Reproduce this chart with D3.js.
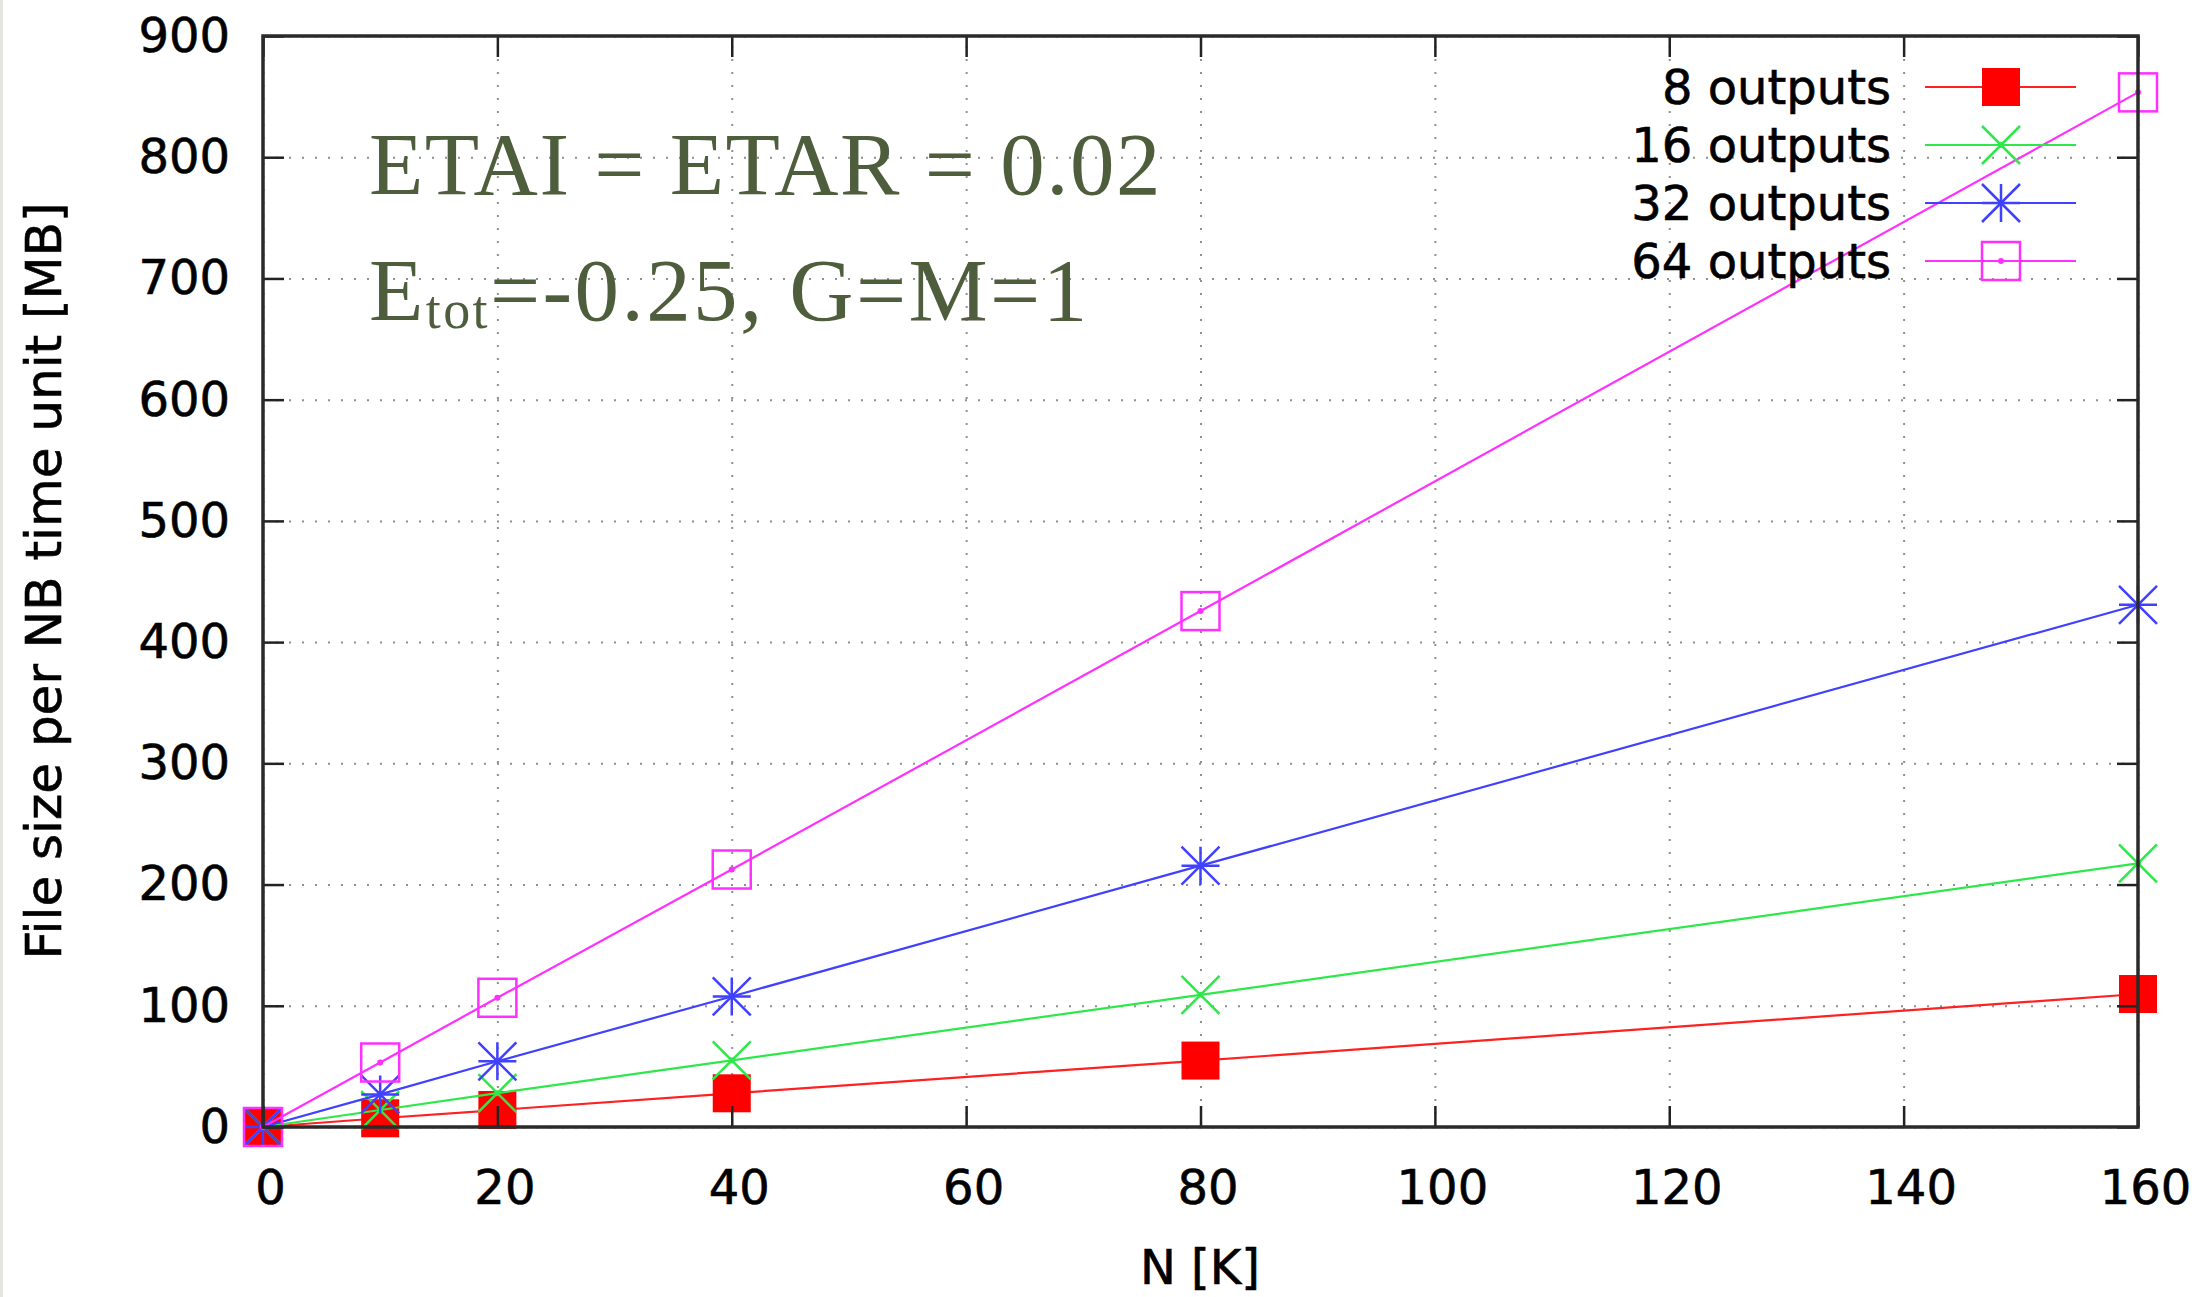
<!DOCTYPE html>
<html>
<head>
<meta charset="utf-8">
<script src="https://cdn.jsdelivr.net/npm/d3@7"></script>
<style>
  body { margin: 0; background: #fff; }
  svg { display: block; }
</style>
</head>
<body>
<svg class="displayContext" width="2209" height="1297"></svg>
<script>

// data
var nValues   = [0, 10, 20, 40, 80, 160];
var outputs8  = [0, 7.2, 14, 27.8, 54.8, 109.7];
var outputs16 = [0, 14, 27.9, 55, 109, 217.5];
var outputs32 = [0, 26.9, 54.2, 107.7, 215.6, 430.8];
var outputs64 = [0, 53.2, 106.6, 212.4, 425.6, 853.5];

var seriesNames = ["8 outputs", "16 outputs", "32 outputs", "64 outputs"];
var xTicks = [0, 20, 40, 60, 80, 100, 120, 140, 160];
var yTicks = [0, 100, 200, 300, 400, 500, 600, 700, 800, 900];

var xLabel = "N [K]";
var yLabel = "File size per NB time unit [MB]";
var noteLine1 = "ETAI = ETAR = 0.02";
var noteLine2 = ["E", "tot", "=-0.25, G=M=1"];

function drawChart(){

  displayContext = d3.select(".displayContext");

  var left = 263, right = 2138, top = 36, bottom = 1127;
  var tickLen = 21;
  var font = "'DejaVu Sans', Verdana, sans-serif";

  // light strip at the left edge of the original screenshot
  displayContext.append("rect")
    .attr("x", 0).attr("y", 0).attr("width", 3).attr("height", 1297)
    .attr("fill", "#e6e6e0");

  var scaleX = d3.scaleLinear()
                 .domain([0, 160])
                 .range([left, right]);

  var scaleY = d3.scaleLinear()
                 .domain([0, 900])
                 .range([bottom, top]);

  // dotted grid
  var gridX = displayContext.append("g")
    .attr("transform", "translate(0," + bottom + ")")
    .call(d3.axisBottom(scaleX).tickValues(xTicks).tickSize(-(bottom - top)).tickFormat(""));
  var gridY = displayContext.append("g")
    .attr("transform", "translate(" + left + ",0)")
    .call(d3.axisLeft(scaleY).tickValues(yTicks).tickSize(-(right - left)).tickFormat(""));
  [gridX, gridY].forEach(function(g){
    g.select(".domain").remove();
    g.selectAll("line")
      .attr("stroke", "#8f8f8f")
      .attr("stroke-width", 2)
      .attr("stroke-dasharray", "2,11");
  });

  // the text in the top left corner
  var note = displayContext.append("g")
    .attr("fill", "#4e5d3c")
    .attr("font-family", "'Liberation Serif', 'Times New Roman', serif");

  note.append("text")
    .attr("x", 369).attr("y", 194)
    .attr("font-size", 89)
    .attr("letter-spacing", 1.5)
    .text(noteLine1);

  var t2 = note.append("text")
    .attr("x", 369).attr("y", 320)
    .attr("font-size", 89)
    .attr("letter-spacing", 2.4);
  t2.append("tspan").text(noteLine2[0]);
  t2.append("tspan").attr("font-size", 54).attr("dy", 8).text(noteLine2[1]);
  t2.append("tspan").attr("dy", -8).text(noteLine2[2]);

  // series
  drawLine(outputs8,  scaleX, scaleY, "#ff2020", "square");
  drawLine(outputs16, scaleX, scaleY, "#2ee84a", "cross");
  drawLine(outputs32, scaleX, scaleY, "#4040ff", "star");
  drawLine(outputs64, scaleX, scaleY, "#ff30ff", "box");

  // ticks on all four sides, pointing inwards
  var x_axis = d3.axisBottom(scaleX).tickValues(xTicks).tickSize(-tickLen).tickPadding(43);
  var y_axis = d3.axisLeft(scaleY).tickValues(yTicks).tickSize(-tickLen).tickPadding(33);
  var x_top  = d3.axisTop(scaleX).tickValues(xTicks).tickSize(-tickLen).tickFormat("");
  var y_right = d3.axisRight(scaleY).tickValues(yTicks).tickSize(-tickLen).tickFormat("");

  var gx = displayContext.append("g")
    .attr("transform", "translate(0," + bottom + ")")
    .call(x_axis);
  var gy = displayContext.append("g")
    .attr("transform", "translate(" + left + ",0)")
    .call(y_axis);
  var gt = displayContext.append("g")
    .attr("transform", "translate(0," + top + ")")
    .call(x_top);
  var gr = displayContext.append("g")
    .attr("transform", "translate(" + right + ",0)")
    .call(y_right);

  [gx, gy, gt, gr].forEach(function(g){
    g.select(".domain").remove();
    g.selectAll("line").attr("stroke", "#222").attr("stroke-width", 2.5);
    g.selectAll("text")
      .attr("fill", "#000")
      .attr("stroke", "#000").attr("stroke-width", 0.6)
      .attr("font-family", font)
      .attr("font-size", 48);
  });
  gx.selectAll("text").attr("dx", 7);

  // border
  displayContext.append("rect")
    .attr("x", left).attr("y", top)
    .attr("width", right - left).attr("height", bottom - top)
    .attr("fill", "none")
    .attr("stroke", "#2a2a2a")
    .attr("stroke-width", 3.5);

  // axis titles
  displayContext.append("text")
    .attr("x", 1200).attr("y", 1284)
    .attr("text-anchor", "middle")
    .attr("font-family", font).attr("font-size", 48)
    .attr("stroke", "#000").attr("stroke-width", 0.6)
    .text(xLabel);

  displayContext.append("text")
    .attr("transform", "translate(61,581) rotate(-90)")
    .attr("text-anchor", "middle")
    .attr("font-family", font).attr("font-size", 50)
    .attr("stroke", "#000").attr("stroke-width", 0.6)
    .text(yLabel);

  drawLegend(font);
}


function drawLine(data, sx, sy, colour, shape){

  var lineFunction = d3.line()
    .x(function(d, i) { return sx(nValues[i]); })
    .y(function(d) { return sy(d); });

  displayContext.append("path")
    .attr("d", lineFunction(data))
    .attr("stroke", colour)
    .attr("stroke-width", 2.2)
    .attr("fill", "none");

  data.forEach(function(d, i){
    drawMarker(sx(nValues[i]), sy(d), colour, shape);
  });
}

function drawMarker(cx, cy, colour, shape){
  var s = 19;
  var g = displayContext.append("g").attr("transform", "translate(" + cx + "," + cy + ")");

  if (shape == "square") {
    g.append("rect")
      .attr("x", -s).attr("y", -s).attr("width", 2*s).attr("height", 2*s)
      .attr("fill", "#ff0000");
    return;
  }
  if (shape == "box") {
    g.append("rect")
      .attr("x", -s).attr("y", -s).attr("width", 2*s).attr("height", 2*s)
      .attr("fill", "none").attr("stroke", colour).attr("stroke-width", 2.5);
  }
  if (shape == "cross" || shape == "star") {
    g.append("path")
      .attr("d", "M" + (-s) + "," + (-s) + "L" + s + "," + s + "M" + (-s) + "," + s + "L" + s + "," + (-s))
      .attr("stroke", colour).attr("stroke-width", 2.5);
  }
  if (shape == "star") {
    g.append("path")
      .attr("d", "M0," + (-s) + "V" + s + "M" + (-s) + ",0H" + s)
      .attr("stroke", colour).attr("stroke-width", 2.5);
  }
  g.append("circle").attr("r", 3).attr("fill", colour);
}

function drawLegend(font){
  var colours = ["#ff2020", "#2ee84a", "#4040ff", "#ff30ff"];
  var shapes  = ["square", "cross", "star", "box"];
  var rowY = d3.scaleLinear().domain([0, 3]).range([87, 261]);

  seriesNames.forEach(function(name, i){
    var y = rowY(i);
    displayContext.append("text")
      .attr("x", 1891).attr("y", y)
      .attr("dy", "0.36em")
      .attr("text-anchor", "end")
      .attr("font-family", font).attr("font-size", 48)
      .attr("stroke", "#000").attr("stroke-width", 0.6)
      .text(name);

    displayContext.append("line")
      .attr("x1", 1925).attr("x2", 2076)
      .attr("y1", y).attr("y2", y)
      .attr("stroke", colours[i]).attr("stroke-width", 2.2);

    drawMarker(2001, y, colours[i], shapes[i]);
  });
}

drawChart();
</script>
</body>
</html>
